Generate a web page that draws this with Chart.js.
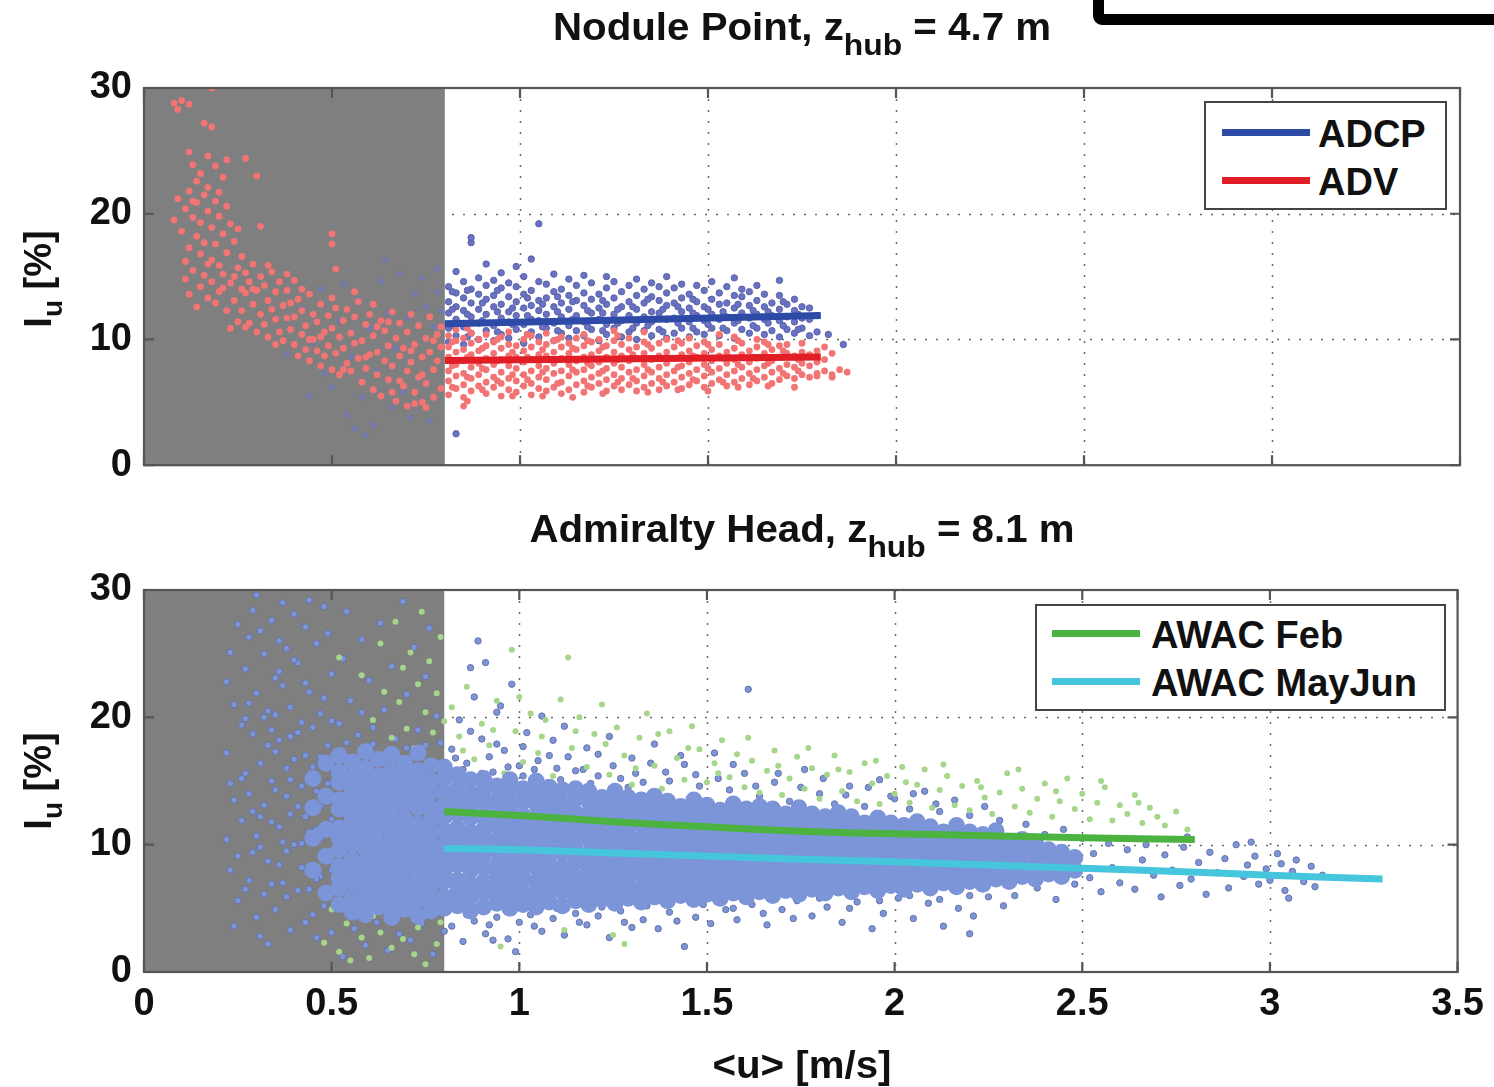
<!DOCTYPE html>
<html><head><meta charset="utf-8">
<script src="https://cdn.jsdelivr.net/npm/chart.js@4.4.1/dist/chart.umd.min.js"></script>
<style>
html,body{margin:0;padding:0;background:#fff;}
body{width:1494px;height:1087px;overflow:hidden;position:relative;font-family:"Liberation Sans",Arial,Helvetica,sans-serif;font-weight:bold;color:#111;}
canvas{position:absolute;left:0;}
.t{position:absolute;font-size:38px;line-height:44px;white-space:nowrap;}
.ctr{left:144px;width:1316px;text-align:center;}
.sub{font-size:30px;position:relative;top:15px;}
.ylab{position:absolute;width:200px;height:44px;text-align:center;font-size:38px;line-height:44px;transform:rotate(-90deg);white-space:nowrap;}
.ylab .s{font-size:28px;position:relative;top:11px;}
.leg{position:absolute;border:2px solid #444;background:#fff;box-sizing:border-box;}
.sw{position:absolute;height:7px;}
.blk{position:absolute;left:1093px;top:-45px;width:480px;height:70px;border:11px solid #000;border-radius:9px;box-sizing:border-box;}
</style>
</head><body>
<div class="blk"></div>
<canvas id="c1" width="1494" height="500" style="top:0"></canvas>
<canvas id="c2" width="1494" height="587" style="top:500px"></canvas>

<div class="t ctr" style="top:5px;transform:scaleX(1.06)">Nodule Point, z<span class="sub">hub</span> = 4.7 m</div>
<div class="t ctr" style="top:507px;transform:scaleX(1.06)">Admiralty Head, z<span class="sub">hub</span> = 8.1 m</div>
<div class="t ctr" style="top:1043px;transform:scaleX(1.06)">&lt;u&gt; [m/s]</div>
<div class="ylab" style="left:-62px;top:257px">I<span class="s">u</span> [%]</div>
<div class="ylab" style="left:-62px;top:759px">I<span class="s">u</span> [%]</div>

<div class="leg" style="left:1204px;top:101px;width:243px;height:109px"></div>
<div class="sw" style="left:1222px;top:129px;width:88px;background:#2c4aa6"></div>
<div class="sw" style="left:1222px;top:177px;width:88px;background:#e11d25"></div>
<div class="t" style="left:1318px;top:112px">ADCP</div>
<div class="t" style="left:1318px;top:160px">ADV</div>

<div class="leg" style="left:1035px;top:604px;width:411px;height:107px"></div>
<div class="sw" style="left:1052px;top:630px;width:88px;background:#4cb340"></div>
<div class="sw" style="left:1052px;top:678px;width:88px;background:#46c6dc"></div>
<div class="t" style="left:1151px;top:613px">AWAC Feb</div>
<div class="t" style="left:1151px;top:661px">AWAC MayJun</div>

<script>
// ---------- axes ----------
const xTicks = [0, 0.5, 1, 1.5, 2, 2.5, 3, 3.5];
const yTicks = [0, 10, 20, 30];
const shadeLimit = 0.8;   // grey band: <u> below 0.8 m/s

// ---------- fitted curves ----------
const adcpFit = [[0.8, 11.25], [1.8, 11.9]];
const advFit = [[0.8, 8.33], [1.8, 8.6]];
const febFit = [[0.8, 12.6], [1.0, 12.3], [1.25, 11.8], [1.5, 11.4], [1.75, 11.05], [2.0, 10.85], [2.25, 10.7], [2.5, 10.55], [2.8, 10.4]];
const mayjunFit = [[0.8, 9.7], [1.0, 9.6], [1.25, 9.35], [1.5, 9.1], [1.75, 8.85], [2.0, 8.65], [2.25, 8.4], [2.5, 8.15], [2.75, 7.9], [3.0, 7.6], [3.3, 7.3]];

// ---------- Nodule Point: ADCP samples (rows: x, y values...) ----------
const adcpBand = [
 [0.81,9.8,10.9,12.1,13.0,14.2],[0.83,10.3,11.6,12.6,13.7,15.4],[0.85,9.6,11.0,12.3,13.3,14.6],
 [0.87,10.5,11.8,12.9,14.0,17.7,18.1],[0.89,10.0,11.3,12.4,13.6,14.9],[0.91,10.7,12.0,13.2,14.3,16.0],
 [0.93,9.9,11.1,12.6,13.5,14.7],[0.95,10.4,11.7,12.8,14.1,15.3],[0.97,10.1,11.4,12.2,13.4,14.5],
 [0.99,10.8,11.9,13.0,14.2,15.8],[1.01,9.7,11.2,12.5,13.6,15.0],[1.03,10.6,11.6,12.7,13.9,16.4],
 [1.05,10.2,11.5,12.3,13.1,14.6,19.2],[1.07,10.9,12.0,13.3,14.4],[1.09,9.9,11.3,12.6,13.8,15.2],
 [1.11,10.5,11.8,12.9,14.0],[1.13,10.1,11.1,12.4,13.5,14.8],[1.15,10.7,11.9,13.1,14.3],
 [1.17,10.3,11.4,12.7,13.7,15.1],[1.19,10.8,12.1,13.2,14.5],[1.21,9.9,11.6,12.5,13.6],
 [1.23,10.4,11.2,12.8,14.1,15.0],[1.25,10.9,12.0,13.3,14.6],[1.27,10.2,11.5,12.6,13.8],
 [1.29,10.6,11.9,13.0,14.3],[1.31,10.0,11.3,12.4,13.5,14.8],[1.33,10.7,11.8,12.9,14.0],
 [1.35,10.3,11.4,12.2,13.4,14.5],[1.37,10.8,12.1,13.1,14.2],[1.39,10.1,11.6,12.7,13.7,15.0],
 [1.41,10.5,11.7,12.9,14.1],[1.43,10.9,12.2,13.3,14.4],[1.45,10.2,11.4,12.5,13.6],
 [1.47,10.6,11.9,13.0,14.3],[1.49,10.4,11.5,12.6,13.9],[1.51,10.9,12.0,13.2,14.6],
 [1.53,10.3,11.6,12.8,13.7],[1.55,10.7,11.8,12.9,14.2],[1.57,10.1,11.3,12.5,13.5,14.9],
 [1.59,10.8,12.1,13.4,14.0],[1.61,10.5,11.7,12.7,13.8],[1.63,10.9,12.0,13.1,14.3],
 [1.65,10.4,11.6,12.6,13.6],[1.67,10.7,11.9,12.9],[1.69,10.2,11.5,12.4,13.5,14.7],
 [1.71,10.8,11.8,12.8],[1.73,10.5,11.4,12.3,13.2],[1.75,10.9,11.7,12.6],[1.77,10.3,11.6,12.5],
 [1.79,10.6,11.9],[1.82,10.4],[1.86,9.6],[0.83,2.5],
 [0.82,11.1,12.4,13.8],[0.86,10.2,12.0,13.9],[0.90,11.5,12.9],[0.94,10.6,12.2,13.9],[0.98,11.2,12.5],
 [1.02,10.4,11.9,13.3],[1.06,11.0,12.8],[1.10,10.7,12.2,13.4],[1.14,11.6,13.0],[1.18,11.0,12.3],
 [1.22,10.7,12.1,13.1],[1.26,11.3,12.4],[1.30,10.9,12.6],[1.34,11.1,13.2],[1.38,10.6,12.4],
 [1.42,11.3,12.6],[1.46,10.9,12.1,13.2],[1.50,11.2,12.4],[1.54,10.9,12.2],[1.58,11.5,12.8],
 [1.62,11.1,12.3],[1.66,11.3,12.2],[1.70,11.1,13.0],[1.74,10.8,12.0]
];
const adcpShaded = [
 [0.42,12.5],[0.45,9.8],[0.47,14.0],[0.50,6.2],[0.52,11.5],[0.54,4.0],[0.55,8.6],[0.57,13.2],[0.58,5.4],
 [0.60,10.9],[0.61,3.2],[0.62,7.5],[0.63,14.6],[0.65,12.1],[0.66,4.6],[0.67,9.3],[0.68,15.2],[0.70,11.7],
 [0.71,3.8],[0.72,13.6],[0.73,6.9],[0.74,14.9],[0.75,12.6],[0.76,3.5],[0.77,11.0],[0.78,13.8],[0.79,12.3],
 [0.78,15.6],[0.48,7.3],[0.38,8.8],[0.44,5.5],[0.59,2.4],[0.64,16.3],[0.69,5.8],[0.53,14.4],[0.56,2.9]
];

// ---------- Nodule Point: ADV samples ----------
const advShaded = [
 [0.08,28.8],[0.10,29.0],[0.12,28.7],[0.09,28.3],[0.18,30.0],[0.18,26.9],[0.16,27.2],
 [0.12,24.9],[0.13,23.9],[0.15,23.2],[0.17,24.6],[0.19,23.8],[0.21,22.9],[0.14,22.6],[0.22,24.3],[0.30,23.0],[0.27,24.4],
 [0.08,19.5],[0.09,21.2],[0.10,18.6],[0.11,20.4],[0.12,17.3],[0.12,21.8],[0.13,19.7],[0.14,18.2],[0.14,20.9],
 [0.15,16.8],[0.15,19.3],[0.16,21.5],[0.16,17.7],[0.17,20.2],[0.18,18.9],[0.18,16.3],[0.19,21.0],[0.19,17.6],
 [0.20,19.8],[0.20,15.9],[0.21,18.4],[0.22,20.6],[0.22,16.9],[0.23,19.2],[0.24,17.8],[0.25,18.8],[0.26,16.6],
 [0.31,19.0],[0.50,18.4],[0.50,17.6],[0.51,15.6],
 [0.11,14.8],[0.12,13.6],[0.13,15.5],[0.14,12.6],[0.15,14.2],[0.16,15.1],[0.17,13.3],[0.18,14.6],[0.19,12.9],
 [0.20,13.8],[0.21,15.2],[0.22,12.3],[0.23,14.5],[0.24,13.1],[0.25,15.7],[0.26,14.0],[0.23,10.9],[0.25,11.4],
 [0.26,12.3],[0.27,13.7],[0.27,15.3],[0.28,11.3],[0.28,14.6],[0.29,12.8],[0.29,16.0],[0.30,10.6],[0.30,13.9],
 [0.31,12.0],[0.31,15.0],[0.32,11.2],[0.32,14.3],[0.33,13.1],[0.33,10.2],[0.34,12.4],[0.34,15.4],[0.35,11.6],
 [0.35,13.8],[0.36,10.6],[0.36,14.6],[0.37,12.7],[0.37,9.9],[0.38,11.7],[0.38,13.9],[0.39,10.8],[0.39,12.9],[0.40,14.7],
 [0.40,9.6],[0.40,11.8],[0.41,8.7],[0.41,13.2],[0.42,10.4],[0.42,12.3],[0.43,9.2],[0.43,11.1],[0.44,13.6],[0.44,8.3],
 [0.45,10.0],[0.45,12.0],[0.46,9.1],[0.46,11.4],[0.47,7.9],[0.47,12.8],[0.48,10.6],[0.48,8.7],[0.49,11.9],[0.49,9.5],
 [0.50,7.6],[0.50,10.9],[0.51,12.5],[0.51,8.9],[0.52,10.2],[0.52,7.2],[0.53,11.5],[0.53,9.3],[0.54,8.1],[0.54,12.4],
 [0.55,10.5],[0.55,7.5],[0.56,9.7],[0.56,11.8],[0.57,8.5],[0.57,13.0],
 [0.58,6.6],[0.58,9.9],[0.59,11.2],[0.59,7.7],[0.60,8.8],[0.60,12.0],[0.61,6.0],[0.61,10.3],[0.62,9.0],[0.62,7.2],
 [0.63,11.5],[0.63,5.5],[0.64,8.3],[0.64,10.7],[0.65,6.8],[0.65,9.5],[0.66,12.2],[0.66,7.9],[0.67,5.1],[0.67,10.1],
 [0.68,8.7],[0.68,11.3],[0.69,6.3],[0.69,9.3],[0.70,4.7],[0.70,7.5],[0.70,10.6],[0.71,8.2],[0.71,12.0],[0.72,5.8],
 [0.72,9.6],[0.73,7.0],[0.73,11.1],[0.74,8.6],[0.74,5.0],[0.75,10.1],[0.75,6.5],[0.76,9.0],[0.76,11.8],[0.77,7.6],
 [0.77,5.4],[0.78,10.4],[0.78,8.3],[0.79,6.1],[0.79,9.4],[0.79,11.0],[0.75,4.6],[0.72,4.9],
 [0.13,21.0],[0.17,22.1],[0.20,21.7],[0.11,16.2],[0.17,16.0],[0.21,14.1],[0.24,15.0],[0.27,11.0],[0.29,14.0],
 [0.33,15.9],[0.35,9.6],[0.38,15.2],[0.42,14.0],[0.44,10.0],[0.47,10.2],[0.50,13.3],[0.53,7.6],[0.56,13.8],
 [0.59,8.6],[0.62,11.0],[0.65,11.4],[0.68,6.7],[0.71,9.1],[0.74,7.2],[0.77,9.9],[0.66,5.8],[0.61,12.8]
];
const advBand = [
 [0.81,5.6,6.7,7.5,8.6,9.4,10.3],[0.83,6.1,7.1,8.0,9.0,9.9,10.8],[0.85,5.4,6.4,7.3,8.3,9.2,10.1,4.7],
 [0.87,5.9,6.9,7.8,8.8,9.7,10.5],[0.89,6.3,7.2,8.1,9.1,10.0],[0.91,5.7,6.6,7.6,8.5,9.5,10.4],
 [0.93,6.2,7.0,8.0,8.9,9.8],[0.95,5.5,6.5,7.4,8.4,9.3,10.2],[0.97,6.0,6.9,7.9,8.7,9.6,10.6],
 [0.99,5.8,6.7,7.7,8.6,9.5],[1.01,6.3,7.2,8.2,9.1,10.0],[1.03,5.6,6.5,7.5,8.4,9.4,10.3],
 [1.05,6.1,7.0,7.9,8.8,9.8],[1.07,5.9,6.8,7.7,8.7,9.6,10.5],[1.09,6.2,7.3,8.1,9.0,9.9],
 [1.11,5.7,6.6,7.5,8.5,9.4,10.2],[1.13,6.0,7.1,8.0,8.9,9.7],[1.15,6.4,7.4,8.3,9.2,10.1],
 [1.17,5.8,6.7,7.6,8.6,9.5,10.4],[1.19,6.2,7.0,7.9,8.8,9.8],[1.21,6.5,7.3,8.2,9.1,10.0],
 [1.23,5.9,6.8,7.7,8.6,9.5],[1.25,6.3,7.2,8.1,9.0,9.9,10.7],[1.27,6.0,6.9,7.8,8.7,9.6],
 [1.29,6.4,7.4,8.3,9.2,10.1],[1.31,5.9,6.7,7.6,8.5,9.4],[1.33,6.2,7.1,8.0,8.9,9.8,10.6],
 [1.35,6.5,7.4,8.4,9.3],[1.37,6.0,6.9,7.8,8.7,9.7],[1.39,6.3,7.2,8.1,9.0,10.0],
 [1.41,6.6,7.5,8.5,9.4],[1.43,6.1,7.0,7.9,8.8,9.7],[1.45,6.4,7.3,8.2,9.1,10.1],
 [1.47,6.7,7.6,8.6,9.5],[1.49,6.2,7.1,8.0,8.9,9.8],[1.51,6.5,7.4,8.3,9.2],
 [1.53,6.8,7.7,8.7,9.6,10.4],[1.55,6.3,7.2,8.1,9.0],[1.57,6.6,7.5,8.4,9.3,10.2],
 [1.59,6.9,7.8,8.8,9.7],[1.61,6.4,7.3,8.2,9.1],[1.63,6.7,7.6,8.5,9.4,10.0],
 [1.65,7.0,7.9,8.9,9.8],[1.67,6.5,7.4,8.3,9.2],[1.69,6.8,7.7,8.6,9.5],
 [1.71,7.1,8.0,8.9,9.6],[1.73,6.9,7.8,8.7,6.2],[1.75,7.2,8.1,9.0,9.7],[1.77,7.0,7.9,8.8],
 [1.79,7.3,8.2,9.1,7.1],[1.81,7.5,8.4,9.4],[1.83,7.0,8.9,7.2],[1.85,7.6],[1.87,7.4],
 [0.82,6.2,7.9,9.8],[0.86,5.1,7.0,8.6,10.9],[0.90,6.0,7.7,9.3],[0.94,6.7,8.3,10.0],[0.98,5.5,7.2,9.0],
 [1.02,6.8,8.6,10.4],[1.06,5.5,7.4,9.2],[1.10,6.5,8.4,10.0],[1.14,5.4,7.6,9.3],[1.18,6.3,8.1,9.9],
 [1.22,5.7,7.5,9.4],[1.26,6.6,8.4,10.3],[1.30,6.9,8.8],[1.34,5.8,7.6,9.6],[1.38,6.6,8.5],
 [1.42,6.0,7.8,9.9],[1.46,6.8,8.7],[1.50,5.9,7.7,9.6],[1.54,6.6,8.5],[1.58,6.2,8.0,9.9],
 [1.62,6.9,8.6],[1.66,6.3,8.1,9.6],[1.70,7.3,9.1],[1.74,7.5,8.4]
];

// ---------- Admiralty Head: AWAC MayJun samples ----------
const mayjunCore = [
 [0.45,8.0,10.5,12.9,15.2],[0.485,6.2,9.1,11.2,13.8,16.4],
 [0.52,5.3,6.6,7.4,8.3,9.6,10.5,11.3,12.8,13.5,14.9,15.7,17.0],
 [0.555,4.7,5.8,7.0,7.9,8.8,10.0,11.1,12.1,13.2,14.2,15.3,16.5],
 [0.59,4.5,5.5,6.6,7.7,8.6,9.7,10.7,11.8,12.7,13.9,14.8,16.0,17.3],
 [0.625,5.1,6.1,7.2,8.2,9.3,10.2,11.4,12.3,13.3,14.5,15.4,16.7],
 [0.66,4.3,5.4,6.5,7.5,8.7,9.6,10.6,11.7,12.8,13.8,14.9,15.9,17.1],
 [0.695,4.9,6.0,6.9,8.1,9.0,10.1,11.1,12.0,13.2,14.3,15.3,16.4],
 [0.73,4.4,5.6,6.7,7.6,8.6,9.7,10.8,11.6,12.9,13.7,14.8,15.8,17.2],
 [0.765,4.8,5.8,6.8,7.9,8.9,9.9,10.9,12.0,12.9,14.1,15.0,16.2],
 [0.80,5.0,5.9,7.1,8.0,9.1,10.0,11.1,12.2,13.1,14.1,15.2,16.1],
 [0.835,5.2,6.3,7.2,8.4,9.3,10.4,11.3,12.4,13.5,14.4,15.5],
 [0.87,4.8,5.9,6.9,8.0,8.9,10.0,11.0,12.1,13.0,14.0,15.1],
 [0.905,5.1,6.2,7.1,8.2,9.2,10.3,11.2,12.2,13.3,14.3,15.2],
 [0.94,5.4,6.4,7.5,8.4,9.5,10.4,11.5,12.6,13.5,14.6],
 [0.975,5.0,6.0,7.0,8.1,9.1,10.1,11.1,12.1,13.1,14.2,15.1],
 [1.01,5.3,6.3,7.4,8.3,9.4,10.4,11.4,12.3,13.4,14.4],
 [1.045,5.1,6.1,7.1,8.2,9.1,10.2,11.2,12.2,13.2,14.1,15.0],
 [1.08,5.5,6.5,7.6,8.5,9.5,10.6,11.5,12.6,13.6,14.5],
 [1.115,5.2,6.3,7.2,8.2,9.3,10.2,11.3,12.3,13.2,14.3],
 [1.15,5.6,6.6,7.5,8.6,9.6,10.6,11.6,12.5,13.6,14.4],
 [1.185,5.3,6.2,7.3,8.3,9.3,10.4,11.3,12.4,13.4,14.2],
 [1.22,5.7,6.7,7.7,8.8,9.7,10.7,11.8,12.7,13.7],
 [1.255,5.4,6.4,7.4,8.4,9.4,10.4,11.4,12.4,13.3,14.2],
 [1.29,5.8,6.8,7.8,8.8,9.8,10.8,11.8,12.8,13.7],
 [1.325,5.5,6.5,7.6,8.5,9.5,10.5,11.6,12.5,13.5],
 [1.36,5.9,6.9,7.9,8.9,9.9,10.9,11.9,12.9,13.8],
 [1.395,5.6,6.6,7.6,8.6,9.6,10.6,11.6,12.6,13.4],
 [1.43,6.0,7.0,8.0,9.0,10.0,11.0,12.0,13.0],
 [1.465,5.7,6.7,7.7,8.7,9.7,10.7,11.7,12.7,13.5],
 [1.50,6.1,7.1,8.1,9.1,10.1,11.1,12.1,13.1],
 [1.535,5.8,6.8,7.8,8.8,9.8,10.8,11.8,12.7],
 [1.57,6.2,7.2,8.2,9.2,10.2,11.2,12.2,13.2],
 [1.605,5.9,6.9,7.9,8.9,9.9,10.9,11.9,12.8],
 [1.64,6.3,7.3,8.3,9.3,10.3,11.3,12.3,13.0],
 [1.675,6.0,7.0,8.0,9.0,10.0,11.0,12.0,12.8],
 [1.71,6.4,7.4,8.4,9.4,10.4,11.4,12.4],
 [1.745,6.1,7.1,8.1,9.1,10.1,11.1,12.1,12.9],
 [1.78,6.5,7.5,8.5,9.5,10.5,11.5,12.4],
 [1.815,6.2,7.2,8.2,9.2,10.2,11.2,12.2],
 [1.85,6.6,7.6,8.6,9.6,10.6,11.6,12.5],
 [1.885,6.3,7.3,8.3,9.3,10.3,11.3,12.2],
 [1.92,6.7,7.7,8.7,9.7,10.7,11.7],
 [1.955,6.4,7.4,8.4,9.4,10.4,11.4,12.1],
 [1.99,6.8,7.8,8.8,9.8,10.8,11.7],
 [2.025,6.5,7.5,8.5,9.5,10.5,11.5],
 [2.06,6.9,7.9,8.9,9.9,10.9,11.8],
 [2.095,6.6,7.6,8.6,9.6,10.6,11.4],
 [2.13,7.0,8.0,9.0,10.0,11.0],
 [2.165,6.7,7.7,8.7,9.7,10.7,11.5],
 [2.20,7.1,8.1,9.1,10.1,11.0],
 [2.235,6.9,7.9,8.9,9.9,10.8],
 [2.27,7.3,8.3,9.3,10.3,11.1],
 [2.305,7.1,8.1,9.1,10.1],
 [2.34,7.5,8.5,9.5,10.4],
 [2.375,7.3,8.3,9.3,10.2],
 [2.41,7.7,8.7,9.6],
 [2.445,7.5,8.5,9.4],
 [2.48,8.0,9.0]
];
const mayjunScatter = [
 [0.22,10.4],[0.22,17.2],[0.23,25.1],[0.23,8.0],[0.24,13.5],[0.24,21.0],[0.25,5.6],[0.25,27.3],[0.26,11.9],[0.26,19.4],
 [0.23,14.8],[0.24,3.6],[0.22,22.8],[0.25,9.1],
 [0.27,15.6],[0.27,23.8],[0.28,7.2],[0.28,26.3],[0.29,12.6],[0.29,18.7],[0.30,4.3],[0.30,29.6],[0.30,21.9],[0.31,9.8],
 [0.31,16.4],[0.32,25.0],[0.32,6.1],[0.28,14.0],[0.29,28.4],[0.31,2.8],[0.32,13.1],[0.27,19.9],[0.30,10.7],
 [0.33,20.5],[0.33,8.7],[0.34,27.6],[0.34,15.0],[0.35,4.9],[0.35,23.1],[0.36,11.4],[0.36,18.2],[0.37,29.0],[0.37,7.0],
 [0.38,13.8],[0.38,25.4],[0.39,3.3],[0.39,20.8],[0.40,10.0],[0.40,16.7],[0.34,11.8],[0.36,26.0],[0.38,5.9],[0.40,28.1],
 [0.35,17.3],[0.37,22.5],[0.33,2.2],[0.39,12.4],[0.36,8.4],[0.34,19.0],[0.38,16.0],
 [0.41,24.3],[0.41,6.4],[0.42,14.6],[0.42,19.6],[0.43,27.1],[0.43,3.9],[0.44,11.0],[0.44,22.0],[0.45,16.1],[0.45,8.2],
 [0.46,25.8],[0.46,2.7],[0.47,13.0],[0.47,20.3],[0.48,5.2],[0.48,28.7],[0.49,17.8],[0.49,9.4],[0.50,23.4],[0.50,3.1],
 [0.42,10.1],[0.44,29.2],[0.46,14.2],[0.48,21.5],[0.50,12.0],[0.43,17.0],[0.47,7.5],[0.49,26.6],[0.45,4.5],[0.41,18.8],
 [0.44,15.3],[0.46,11.2],[0.48,13.6],[0.43,12.2],[0.47,16.9],[0.49,6.0],
 [0.26,15.2],[0.28,21.1],[0.31,12.2],[0.33,17.8],[0.35,14.3],[0.37,10.2],[0.39,18.5],[0.41,13.0],[0.43,22.7],[0.45,19.2],
 [0.47,10.5],[0.49,14.8],[0.50,19.7],[0.32,20.0],[0.36,23.6],[0.40,24.5],[0.42,8.2],[0.46,7.3],[0.48,16.4],[0.29,9.4],
 [0.27,6.5],[0.34,6.9],[0.38,9.5],[0.45,12.6],[0.50,8.0],[0.31,26.8],[0.39,15.1],[0.44,6.5],[0.48,11.3],[0.35,20.2],
 [0.52,19.5],[0.53,24.6],[0.54,28.3],[0.55,21.3],[0.57,18.6],[0.58,26.1],[0.60,22.9],[0.61,19.2],[0.63,27.4],[0.64,20.6],
 [0.66,24.0],[0.67,18.3],[0.69,29.1],[0.70,21.8],[0.72,25.5],[0.73,19.0],[0.75,23.2],[0.76,27.0],[0.78,20.1],[0.79,18.0],
 [0.56,3.4],[0.59,2.1],[0.62,3.9],[0.65,1.7],[0.68,3.0],[0.71,2.5],[0.74,3.8],[0.77,1.4],[0.80,3.2],[0.53,1.2],
 [0.61,17.9],[0.70,17.6],[0.75,17.8],[0.54,18.0],[0.58,20.4],
 [0.82,17.5],[0.84,19.8],[0.86,16.4],[0.88,21.6],[0.90,18.3],[0.92,16.9],[0.94,20.4],[0.96,17.4],[0.98,22.6],[1.00,16.2],
 [1.02,18.8],[1.04,15.9],[1.06,20.1],[1.08,17.0],[1.10,16.0],[1.12,19.3],[1.15,15.8],[1.18,17.6],[1.21,15.4],[1.24,18.5],
 [1.27,15.2],[1.30,16.8],[1.33,14.9],[1.36,17.9],[1.40,15.0],[1.44,16.3],[1.48,14.6],[1.52,17.2],[0.87,23.9],[0.91,24.3],
 [0.95,20.9],[0.89,26.0],[0.85,15.9],[0.93,15.7],[1.01,15.4],[1.11,15.1],[1.19,14.8],[1.29,14.5],
 [0.83,16.8],[0.87,18.9],[0.90,15.6],[0.94,17.9],[0.97,16.1],[1.01,17.7],[1.05,16.6],[1.09,18.2],[1.13,16.9],[1.17,15.9],
 [1.21,17.1],[1.25,16.2],[1.31,15.6],[1.35,16.4],[1.39,15.7],[1.43,17.0],[1.47,15.5],[1.53,15.2],[1.57,16.3],[1.63,14.6],
 [1.69,15.6],[1.75,14.5],[1.81,15.2],[1.87,13.9],[1.93,14.5],[1.99,13.8],[2.05,14.0],[2.11,13.2],
 [0.82,3.6],[0.85,2.4],[0.88,4.0],[0.91,3.0],[0.94,4.3],[0.97,2.6],[1.00,3.9],[1.03,4.5],[1.06,3.2],[1.09,4.2],
 [1.12,2.9],[1.15,4.6],[1.18,3.7],[1.21,4.4],[1.24,2.7],[1.27,4.8],[1.30,3.5],[1.33,4.1],[1.37,3.4],[1.40,4.7],
 [1.44,2.0],[1.47,4.3],[1.51,3.8],[1.55,4.9],[0.99,1.6],[0.93,2.5],
 [0.86,4.5],[0.92,3.7],[0.98,4.9],[1.04,3.6],[1.10,5.0],[1.16,3.9],[1.22,5.1],[1.28,3.9],[1.34,5.2],[1.42,4.0],
 [1.49,5.3],[1.57,5.0],[1.65,4.6],[1.73,4.2],[1.80,5.8],[1.88,5.0],[1.96,5.6],[2.04,6.0],[2.12,5.7],[2.20,6.0],
 [1.56,14.3],[1.60,15.6],[1.64,13.8],[1.68,14.9],[1.72,13.4],[1.76,15.9],[1.80,14.0],[1.84,13.2],[1.88,14.6],[1.92,13.0],
 [1.96,15.1],[2.00,13.6],[2.04,12.8],[2.08,14.2],[2.12,12.6],[2.16,13.5],[2.20,12.3],[2.24,13.0],[2.28,11.9],[1.61,22.2],
 [1.58,4.1],[1.62,5.3],[1.66,3.7],[1.70,4.9],[1.74,5.6],[1.78,4.4],[1.82,5.1],[1.86,3.9],[1.90,5.5],[1.94,3.4],
 [1.97,4.6],[2.01,5.8],[2.05,4.2],[2.09,5.4],[2.13,3.6],[2.17,5.0],[2.21,4.4],[2.25,5.9],[2.29,5.2],[2.20,3.0],
 [2.32,6.0],[2.35,11.6],[2.38,6.6],[2.40,10.8],[2.43,5.7],[2.45,11.2],[2.48,6.9],[2.50,10.5],[2.52,7.4],[2.53,9.3],
 [2.55,6.3],[2.57,10.1],[2.58,8.2],[2.60,7.0],[2.62,9.6],[2.64,6.5],[2.66,8.8],[2.67,10.0],[2.69,7.6],[2.71,5.9],
 [2.72,9.2],[2.74,8.0],[2.76,6.8],[2.77,9.8],[2.79,7.3],[2.81,8.6],[2.83,6.1],[2.84,9.4],[2.86,7.8],[2.88,8.9],
 [2.89,6.6],[2.91,10.0],[2.93,7.5],[2.94,8.4],[2.96,9.1],[2.97,6.9],[2.99,8.1],[3.00,7.2],[3.02,9.3],[3.03,8.5],
 [3.04,6.4],[3.06,7.9],[3.07,8.8],[3.09,7.1],[3.11,8.3],[3.12,6.7],[3.14,7.6],[2.78,10.6],[2.95,10.2],[3.05,5.8]
];

// ---------- Admiralty Head: AWAC Feb samples ----------
const febScatter = [
 [0.52,24.7],[0.58,23.3],[0.61,19.8],[0.63,25.8],[0.64,22.0],[0.66,18.4],[0.67,27.5],[0.68,21.2],[0.69,23.9],[0.70,19.1],
 [0.71,25.1],[0.72,17.6],[0.73,22.6],[0.74,28.3],[0.75,20.4],[0.76,24.4],[0.77,18.8],[0.78,21.9],[0.79,26.3],[0.80,19.7],
 [0.62,16.8],[0.76,16.5],
 [0.48,2.3],[0.50,4.9],[0.52,1.6],[0.54,3.8],[0.56,5.9],[0.58,2.7],[0.60,1.1],[0.61,4.4],[0.63,3.1],[0.64,6.2],
 [0.66,1.9],[0.67,4.0],[0.69,2.6],[0.70,5.4],[0.72,1.4],[0.73,3.5],[0.75,0.6],[0.76,4.7],[0.78,2.2],[0.79,3.9],
 [0.55,0.9],[0.71,6.6],
 [0.82,20.8],[0.84,18.5],[0.86,22.4],[0.88,16.7],[0.90,19.5],[0.92,17.8],[0.94,21.3],[0.96,15.6],[0.98,25.3],[0.99,18.9],
 [1.01,16.5],[1.03,20.3],[1.05,17.2],[1.07,19.8],[1.09,15.4],[1.11,21.4],[1.13,24.7],[1.14,17.6],[1.16,20.0],[1.18,16.1],
 [1.20,18.7],
 [1.22,21.0],[1.24,15.5],[1.26,19.2],[1.28,17.0],[1.30,14.7],[1.32,18.4],[1.34,20.3],[1.36,16.2],[1.38,14.4],[1.40,18.9],
 [1.42,16.8],[1.44,15.1],[1.46,19.3],[1.48,17.5],[1.50,14.9],[1.52,16.4],[1.54,18.2],[1.56,15.3],[1.58,17.1],[1.60,14.5],
 [1.62,16.6],[1.64,14.1],[1.66,15.8],[1.68,17.4],[1.70,13.9],[1.72,15.2],[1.74,16.9],[1.76,14.4],[1.78,16.0],[1.80,13.6],
 [1.82,15.5],[1.84,17.0],[1.86,14.2],[1.88,15.7],[1.90,13.4],[1.92,16.4],[1.94,14.8],[1.96,13.2],[1.98,15.4],[2.00,14.0],
 [2.02,16.1],[2.04,13.3],
 [2.06,14.7],[2.08,15.9],[2.10,12.9],[2.12,14.3],[2.14,15.4],[2.16,13.1],[2.18,14.6],[2.20,12.7],[2.22,15.0],[2.24,13.7],
 [2.26,12.4],[2.28,14.1],[2.30,15.6],[2.32,13.0],[2.34,14.4],[2.36,12.5],[2.38,13.6],[2.40,14.8],[2.42,12.2],[2.44,13.4],
 [2.46,15.2],[2.48,12.8],[2.50,14.0],[2.52,12.0],[2.54,13.3],[2.56,14.5],[2.58,11.9],[2.60,13.1],[2.62,12.4],[2.64,13.9],
 [2.66,11.7],[2.68,12.9],[2.70,12.2],[2.72,11.5],[2.75,12.6],[2.78,11.2],
 [1.25,2.9],[1.28,2.2],[1.12,3.3],[0.95,2.0],
 [0.85,17.4],[0.93,19.0],[1.00,21.6],[1.06,18.5],[1.15,18.9],[1.23,17.9],[1.31,16.0],[1.37,18.7],[1.45,17.6],[1.53,15.6],
 [1.61,18.4],[1.69,16.2],[1.77,17.6],[1.85,15.9],[1.95,16.6],[2.03,14.9],[2.13,16.3],[2.23,14.5],[2.33,15.9],[2.43,14.2],
 [2.55,15.0],[2.65,13.3]
];

// ---------- helpers ----------
const FONT = {family:'"Liberation Sans", Arial, sans-serif', size:38, weight:'bold'};
const pairs = a => a.map(p => ({x:p[0], y:p[1]}));
const rows = a => { const out=[]; a.forEach(r => { for (let i=1;i<r.length;i++) out.push({x:r[0], y:r[i]}); }); return out; };

function pts(label, data, color, r, order, border) {
  return {label, data, backgroundColor:color, borderColor:border||color, borderWidth:border?1:0,
          pointRadius:r, pointHoverRadius:r, order, showLine:false};
}
function fit(label, data, color) {
  return {label, data:pairs(data), borderColor:color, backgroundColor:color, borderWidth:7,
          pointRadius:0, showLine:true, tension:0.3, order:0, borderCapStyle:'butt'};
}

const framePlugin = {
  id:'frame',
  beforeDatasetsDraw(chart) {
    const {ctx, chartArea:a, scales:{x, y}} = chart;
    ctx.save();
    ctx.strokeStyle = '#6a6a6a'; ctx.lineWidth = 1.5; ctx.setLineDash([2, 9]);
    ctx.beginPath();
    xTicks.forEach(v => { if (v <= 0 || v >= 3.5) return; const px = Math.round(x.getPixelForValue(v)) + 0.5; ctx.moveTo(px, a.top); ctx.lineTo(px, a.bottom); });
    yTicks.forEach(v => { if (v <= 0 || v >= 30) return; const py = Math.round(y.getPixelForValue(v)) + 0.5; ctx.moveTo(a.left, py); ctx.lineTo(a.right, py); });
    ctx.stroke();
    ctx.setLineDash([]);
    const sx = x.getPixelForValue(shadeLimit);
    ctx.fillStyle = '#7f7f7f';
    ctx.fillRect(a.left, a.top, sx - a.left, a.bottom - a.top);
    ctx.restore();
  },
  afterDatasetsDraw(chart) {
    const {ctx, chartArea:a, scales:{x, y}} = chart;
    ctx.save();
    ctx.strokeStyle = '#555'; ctx.lineWidth = 2.2;
    ctx.strokeRect(a.left, a.top, a.right - a.left, a.bottom - a.top);
    ctx.beginPath();
    const L = 10;
    xTicks.forEach(v => { const px = x.getPixelForValue(v); ctx.moveTo(px, a.bottom); ctx.lineTo(px, a.bottom - L); ctx.moveTo(px, a.top); ctx.lineTo(px, a.top + L); });
    yTicks.forEach(v => { const py = y.getPixelForValue(v); ctx.moveTo(a.left, py); ctx.lineTo(a.left + L, py); ctx.moveTo(a.right, py); ctx.lineTo(a.right - L, py); });
    ctx.stroke();
    ctx.restore();
  }
};

function makeChart(id, datasets, showX, padTop, padBottom) {
  return new Chart(document.getElementById(id), {
    type:'scatter',
    data:{datasets},
    plugins:[framePlugin],
    options:{
      responsive:false, animation:false, devicePixelRatio:1, events:[],
      layout:{padding:{top:padTop, right:34, bottom:padBottom, left:0}},
      plugins:{legend:{display:false}, tooltip:{enabled:false}, title:{display:false}},
      scales:{
        x:{type:'linear', min:0, max:3.5, display:showX,
           afterBuildTicks:s => { s.ticks = xTicks.map(v => ({value:v})); },
           grid:{display:false, drawTicks:false}, border:{display:false},
           ticks:{font:FONT, color:'#111', padding:10, maxRotation:0, autoSkip:false, callback:v => String(v)},
           afterFit:s => { s.height = showX ? 115 : 0; }},
        y:{type:'linear', min:0, max:30,
           afterBuildTicks:s => { s.ticks = yTicks.map(v => ({value:v})); },
           grid:{display:false, drawTicks:false}, border:{display:false},
           ticks:{font:FONT, color:'#111', padding:12, callback:v => String(v)},
           afterFit:s => { s.width = 144; }}
      }
    }
  });
}

makeChart('c1', [
  fit('ADCP', adcpFit, '#2c4aa6'),
  fit('ADV', advFit, '#e11d25'),
  pts('ADV', [...pairs(advShaded), ...rows(advBand)], '#f37474', 3.4, 1),
  pts('ADCP', rows(adcpBand), '#6a72c4', 3.2, 2, '#5a62a8'),
  pts('ADCP', pairs(adcpShaded), '#7479a6', 3.2, 3)
], false, 88, 30);

makeChart('c2', [
  fit('AWAC Feb', febFit, '#4cb340'),
  fit('AWAC MayJun', mayjunFit, '#46c6dc'),
  pts('AWAC MayJun', rows(mayjunCore), '#7c94d8', 8.5, 1),
  pts('AWAC Feb', pairs(febScatter), '#a5d68a', 3, 2),
  pts('AWAC MayJun', pairs(mayjunScatter), '#7c94d8', 3.2, 3, '#6674a8')
], true, 90, 0);
</script>
</body></html>
